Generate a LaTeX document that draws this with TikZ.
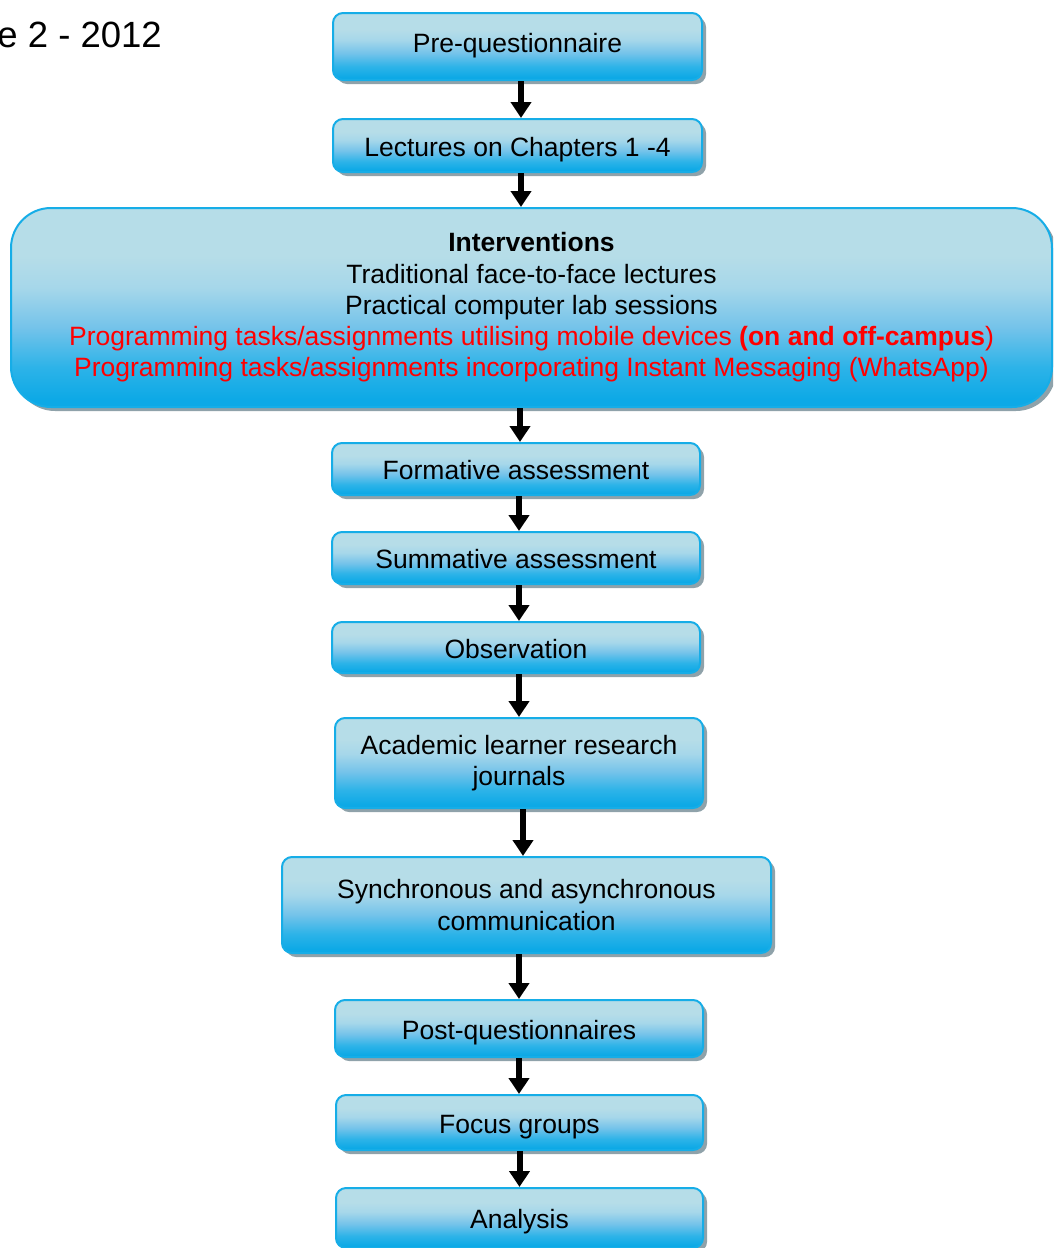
\documentclass[tikz,border=0pt]{standalone}
\usepackage{fontspec}
\setmainfont{Liberation Sans}
\usetikzlibrary{arrows.meta,shadows,calc}

\definecolor{boxtop}{HTML}{B6DDE8}
\definecolor{boxupper}{HTML}{A6D7EA}
\definecolor{boxmid}{HTML}{74C3EA}
\definecolor{boxlow}{HTML}{2DB3E8}
\definecolor{boxbot}{HTML}{0DA9E6}
\definecolor{boxline}{HTML}{16ADE7}
\definecolor{shadowgray}{HTML}{8FA2AA}
\definecolor{alert}{HTML}{FF0000}

% light top half fading into bright cyan at the bottom
\pgfdeclareverticalshading{stepshade}{100bp}{%
  color(0bp)=(boxbot); color(27bp)=(boxbot); color(35bp)=(boxlow);
  color(45bp)=(boxmid); color(55bp)=(boxupper); color(63bp)=(boxtop);
  color(100bp)=(boxtop)}

\tikzset{
  stepbox/.style={draw=boxline, line width=2pt, rounded corners=10pt,
    shade, shading=stepshade,
    drop shadow={shadow xshift=4pt, shadow yshift=-4pt, fill=shadowgray, opacity=1},
    align=center, inner sep=0pt, text=black,
    font=\fontsize{26.5}{31.2}\selectfont},
  oneline/.style={text height=24pt, text depth=3pt},
  flowarrow/.style={line width=6pt, draw=black,
    -{Triangle[width=20pt,length=16pt]}}
}

\begin{document}
\begin{tikzpicture}[x=1pt,y=-1pt]
\useasboundingbox (0,0) rectangle (1053,1248);
\clip (0,0) rectangle (1053,1248);

\node[anchor=base east, inner sep=0pt, font=\fontsize{36.5}{42}\selectfont]
  (title) at (162,47) {e 2 - 2012};

\node[stepbox, text height=19pt, text depth=8pt,
  minimum width=369pt, minimum height=67pt] (pre) at (517.5,46.5)
  {Pre-questionnaire};
\node[stepbox, oneline, minimum width=369pt, minimum height=53pt] (lec) at (517.5,145.5)
  {Lectures on Chapters 1 -4};
\node[stepbox, rounded corners=40pt, minimum width=1041pt, minimum height=199pt]
  (int) at (531.5,307.5)
  {\textbf{Interventions}\\
   Traditional face-to-face lectures\\
   Practical computer lab sessions\\
   \textcolor{alert}{Programming tasks/assignments utilising mobile devices \textbf{(on and off-campus})}\\
   \textcolor{alert}{Programming tasks/assignments incorporating Instant Messaging (WhatsApp)}};
\node[stepbox, oneline, minimum width=368pt, minimum height=52pt] (form) at (516,469)
  {Formative assessment};
\node[stepbox, oneline, minimum width=368pt, minimum height=52pt] (sum) at (516,558)
  {Summative assessment};
\node[stepbox, oneline, minimum width=368pt, minimum height=51pt] (obs) at (516,647.5)
  {Observation};
\node[stepbox, minimum width=368pt, minimum height=90pt] (acad) at (519,763)
  {Academic learner research\\journals};
\node[stepbox, minimum width=489pt, minimum height=96pt] (sync) at (526.5,905)
  {Synchronous and asynchronous\\communication};
\node[stepbox, oneline, minimum width=368pt, minimum height=57pt] (post) at (519,1028.5)
  {Post-questionnaires};
\node[stepbox, oneline, minimum width=367pt, minimum height=55pt] (focus) at (519.5,1122.5)
  {Focus groups};
\node[stepbox, oneline, minimum width=367pt, minimum height=60pt] (ana) at (519.5,1218)
  {Analysis};

\draw[flowarrow] ([xshift=3.5pt]pre.south) -- ([xshift=3.5pt]pre.south |- lec.north);
\draw[flowarrow] ([xshift=3.5pt]lec.south) -- ([xshift=3.5pt]lec.south |- int.north);
\draw[flowarrow] ([xshift=4pt]form.north |- int.south) -- ([xshift=4pt]form.north);
\draw[flowarrow] ([xshift=3pt]form.south) -- ([xshift=3pt]form.south |- sum.north);
\draw[flowarrow] ([xshift=3pt]sum.south) -- ([xshift=3pt]sum.south |- obs.north);
\draw[flowarrow] ([xshift=3pt]obs.south) -- ([xshift=3pt]obs.south |- acad.north);
\draw[flowarrow] ([xshift=4pt]acad.south) -- ([xshift=4pt]acad.south |- sync.north);
\draw[flowarrow] (post.north |- sync.south) -- (post.north);
\draw[flowarrow] (post.south) -- (post.south |- focus.north);
\draw[flowarrow] (focus.south) -- (focus.south |- ana.north);
\end{tikzpicture}
\end{document}
